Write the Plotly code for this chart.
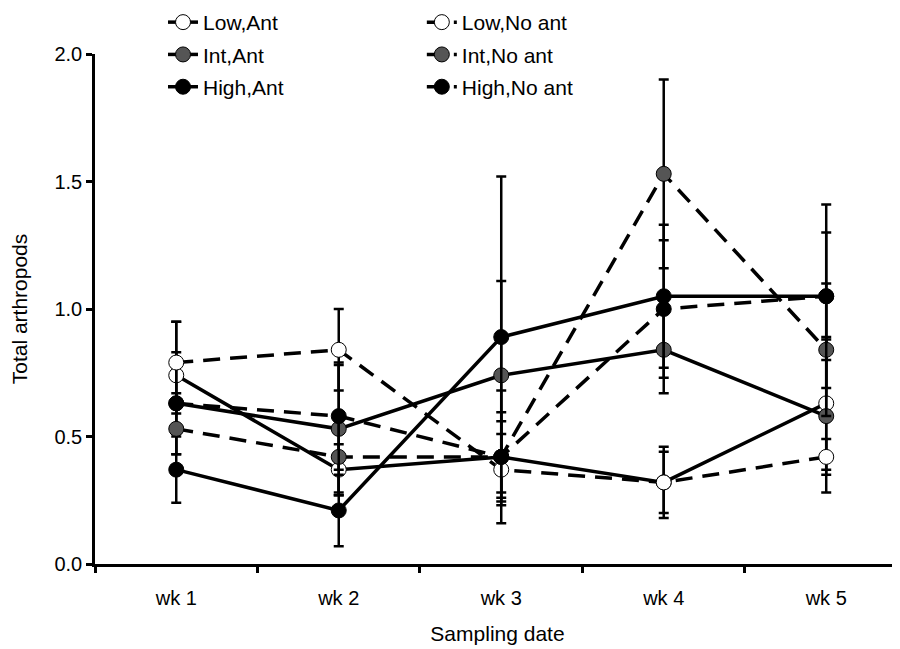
import plotly.graph_objects as go

weeks = ["wk 1", "wk 2", "wk 3", "wk 4", "wk 5"]

low_ant = [0.74, 0.37, 0.42, 0.32, 0.63]
low_ant_se = [0.21, 0.10, 0.26, 0.14, 0.26]
int_ant = [0.63, 0.53, 0.74, 0.84, 0.58]
int_ant_se = [0.20, 0.25, 0.37, 0.17, 0.30]
high_ant = [0.37, 0.21, 0.89, 1.05, 1.05]
high_ant_se = [0.13, 0.14, 0.63, 0.28, 0.36]

low_noant = [0.79, 0.84, 0.37, 0.32, 0.42]
low_noant_se = [0.16, 0.16, 0.14, 0.12, 0.07]
int_noant = [0.53, 0.42, 0.42, 1.53, 0.84]
int_noant_se = [0.10, 0.15, 0.175, 0.37, 0.26]
high_noant = [0.63, 0.58, 0.42, 1.00, 1.05]
high_noant_se = [0.04, 0.21, 0.14, 0.27, 0.25]

series = [
    ("Low,Ant", low_ant, low_ant_se, "white", "solid", "legend"),
    ("Int,Ant", int_ant, int_ant_se, "#555555", "solid", "legend"),
    ("High,Ant", high_ant, high_ant_se, "black", "solid", "legend"),
    ("Low,No ant", low_noant, low_noant_se, "white", "17px,10px", "legend2"),
    ("Int,No ant", int_noant, int_noant_se, "#555555", "17px,10px", "legend2"),
    ("High,No ant", high_noant, high_noant_se, "black", "17px,10px", "legend2"),
]

fig = go.Figure()
for name, vals, se, col, dash, leg in series:
    fig.add_trace(go.Scatter(
        x=weeks, y=vals, name=name, mode="lines+markers",
        line=dict(color="black", width=3.5, dash=dash),
        marker=dict(size=15, color=col, line=dict(color="black", width=1)),
        error_y=dict(type="data", array=se, visible=True, color="black",
                     thickness=2.5, width=5),
        legend=leg, legendgroup=name,
    ))

font = "Liberation Sans, Arial, sans-serif"
leg_common = dict(
    font=dict(family=font, size=21, color="black"),
    bgcolor="rgba(0,0,0,0)", tracegroupgap=2,
    yanchor="top", xanchor="left", y=1.102,
)
fig.update_layout(
    width=892, height=641,
    margin=dict(l=87, r=0, t=46, b=85, autoexpand=False),
    plot_bgcolor="white", paper_bgcolor="white",
    font=dict(family=font, size=20, color="black"),
    legend=dict(x=0.0845, **leg_common),
    legend2=dict(x=0.406, **leg_common),
    xaxis=dict(
        type="category", range=[-0.5, 4.454],
        showline=True, linecolor="black", linewidth=2.5,
        ticks="outside", tickson="boundaries", ticklen=6, tickwidth=2.5,
        tickcolor="black", showgrid=False, zeroline=False,
        ticklabelstandoff=14,
        title=dict(text="Sampling date", font=dict(size=21), standoff=19),
        tickfont=dict(size=20),
    ),
    yaxis=dict(
        range=[0, 2.0], tickvals=[0, 0.5, 1.0, 1.5, 2.0],
        tickformat=".1f",
        showline=True, linecolor="black", linewidth=2.5,
        ticks="outside", ticklen=6, tickwidth=2.5, tickcolor="black",
        showgrid=False, zeroline=False,
        title=dict(text="Total arthropods", font=dict(size=21), standoff=22),
        tickfont=dict(size=20),
    ),
)

fig.write_html("out.html")
